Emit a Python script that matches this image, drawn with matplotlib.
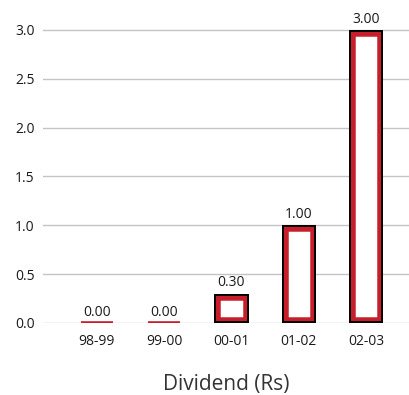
import matplotlib.pyplot as plt

# Dividend per year (Rs)
anos = ['98-99', '99-00', '00-01', '01-02', '02-03']
dividendo = [0.00, 0.00, 0.30, 1.00, 3.00]
ticks_y = [0.0, 0.5, 1.0, 1.5, 2.0, 2.5, 3.0]

rojo = '#c61f2b'
gris = '#c4c4c4'
plt.rcParams['font.family'] = ['Open Sans', 'DejaVu Sans']

fig = plt.figure(figsize=(4.09, 3.95), dpi=100)
ax = fig.add_axes([43 / 409, 72 / 395, 1 - 43 / 409, 1 - 72 / 395])

x = list(range(len(anos)))
for i, v in zip(x, dividendo):
    if v == 0:
        # empty year: only a red line on the baseline
        ax.bar(i, v, width=0.48, facecolor='none', edgecolor=rojo, linewidth=2.6, zorder=3)
        continue
    # red band with white inside, clipped so only the inner half of the stroke shows
    b = ax.bar(i, v, width=0.51, facecolor='white', edgecolor=rojo, linewidth=9, zorder=3)[0]
    b.set_clip_path(b)
    k = ax.bar(i, v, width=0.51, facecolor='none', edgecolor='black', linewidth=2.8, zorder=4)[0]
    k.set_clip_path(k)

for i, v in zip(x, dividendo):
    ax.annotate(f'{v:.2f}', (i, v), xytext=(0, 2.5), textcoords='offset points',
                ha='center', va='bottom', fontsize=10, color='#1a1a1a')

ax.set_xlim(-0.8, 4.64)
ax.set_ylim(0, 3.307)
ax.set_xticks(x)
ax.set_xticklabels(anos, fontsize=10, color='#1a1a1a')
ax.set_yticks(ticks_y)
ax.set_yticklabels([f'{t:.1f}' for t in ticks_y], fontsize=10, color='#1a1a1a')
ax.tick_params(length=0, pad=6)
ax.tick_params(axis='x', pad=8)
ax.grid(axis='y', color=gris, linewidth=1.0, zorder=0)
ax.set_axisbelow(True)
for s in ax.spines.values():
    s.set_visible(False)

ax.set_xlabel('Dividend (Rs)', fontsize=15, color='#333333', labelpad=18)

fig.savefig('out.png', dpi=100)
